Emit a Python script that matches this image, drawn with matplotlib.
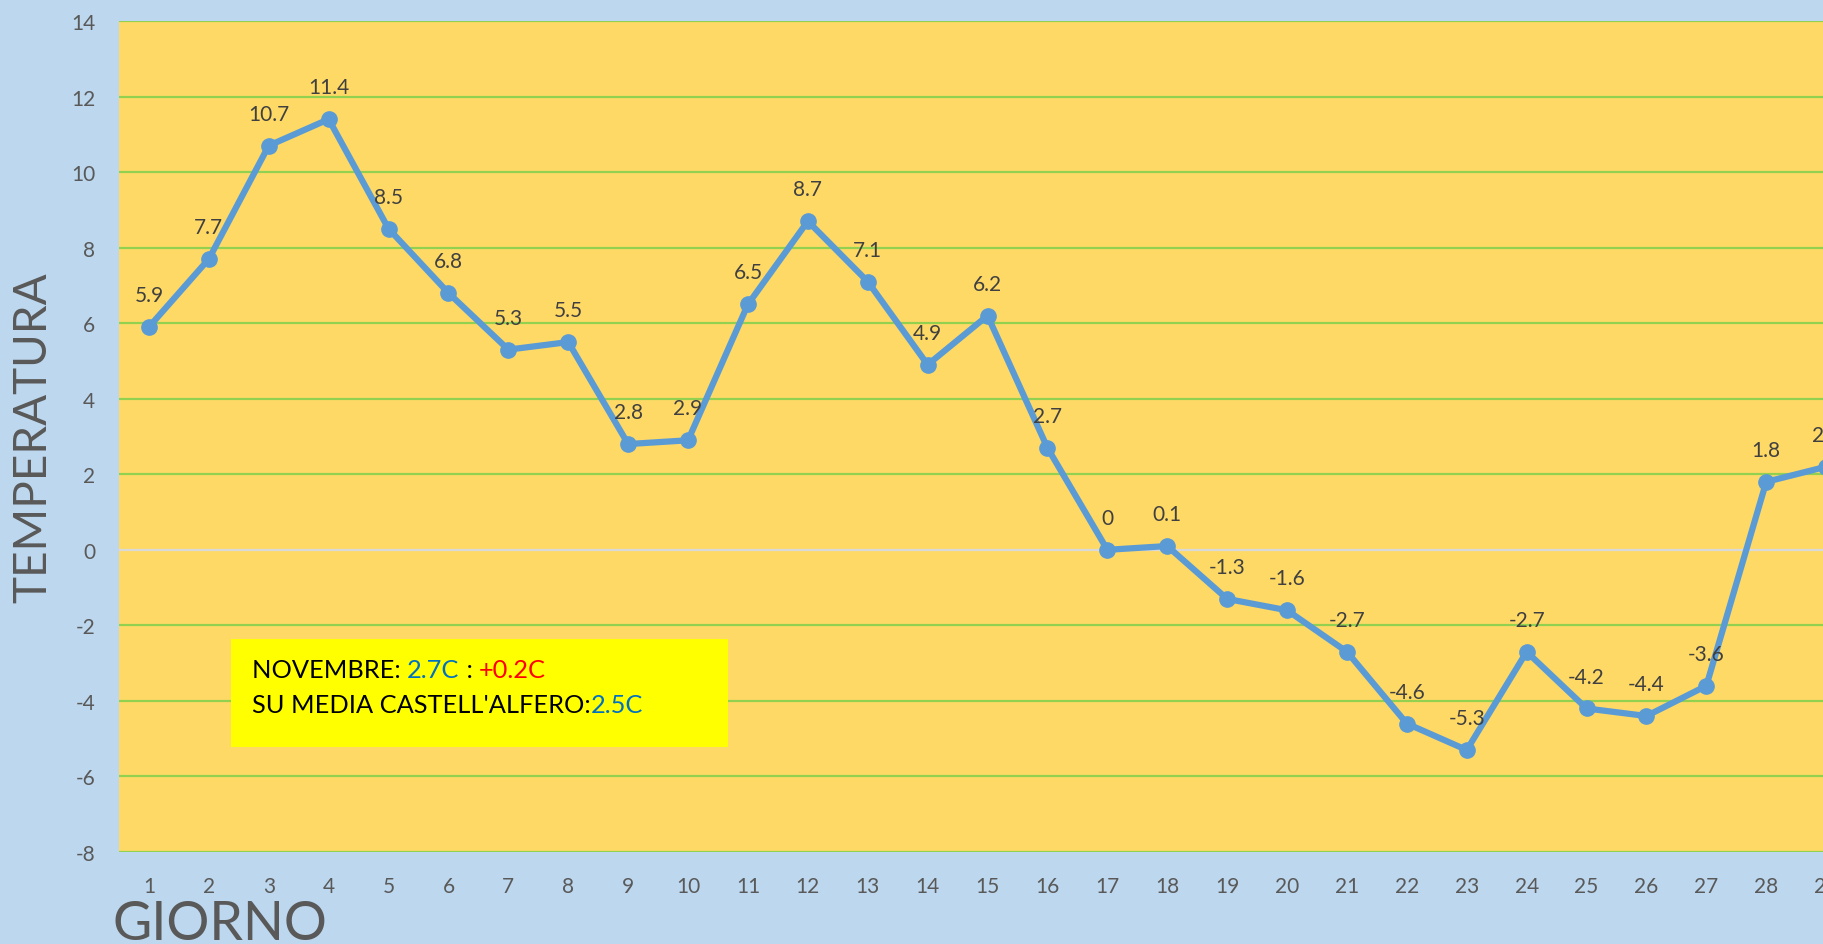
import matplotlib
matplotlib.use("Agg")
import matplotlib.pyplot as plt
from matplotlib.patches import Rectangle

days = list(range(1, 30))
temps = [5.9, 7.7, 10.7, 11.4, 8.5, 6.8, 5.3, 5.5, 2.8, 2.9, 6.5, 8.7, 7.1, 4.9, 6.2,
         2.7, 0, 0.1, -1.3, -1.6, -2.7, -4.6, -5.3, -2.7, -4.2, -4.4, -3.6, 1.8, 2.2]
yticks = [-8, -6, -4, -2, 0, 2, 4, 6, 8, 10, 12, 14]
xticklabels = [str(d) for d in range(1, 31)]

plt.rcParams['font.family'] = ['Lato', 'DejaVu Sans']
plt.rcParams['axes.unicode_minus'] = False

BG = '#BDD7EE'
PLOT = '#FFD966'
GRID = '#92D050'
LINE = '#5B9BD5'
TICK = '#595959'
LAB = '#404040'
BLUE = '#0070C0'

fig = plt.figure(figsize=(18.24, 9.45), dpi=100)
fig.patch.set_facecolor(BG)
ax = fig.add_axes([119/1824, 92/945, 1797/1824, 831/945])
ax.set_facecolor(PLOT)
ax.set_xlim(0.5, 30.5)
ax.set_ylim(-8, 14)
ax.set_yticks(yticks)
ax.set_yticklabels([str(y) for y in yticks])
ax.set_xticks(range(1, 31))
ax.set_xticklabels(xticklabels)
for s in ax.spines.values():
    s.set_visible(False)
ax.tick_params(axis='both', length=0, labelsize=15, colors=TICK)
ax.tick_params(axis='x', pad=17)
ax.tick_params(axis='y', pad=17)
for y in yticks:
    ax.axhline(y, color=('#D9D9D9' if y == 0 else GRID), lw=1.6, zorder=1)

ax.plot(days, temps, color=LINE, lw=4.5, marker='o', ms=11, zorder=3,
        solid_joinstyle='round')
for d, t in zip(days, temps):
    ax.annotate('%g' % t, (d, t), xytext=(0, 23), textcoords='offset points',
                ha='center', va='center', fontsize=15, color=LAB, zorder=4)

# Text box
fig.patches.append(Rectangle((231/1824, 1 - 748/945), (728-231)/1824, (748-640)/945,
                             transform=fig.transFigure, facecolor='#FFFF00',
                             edgecolor='none', zorder=5))

def rainbow(parts, x, y, size=18.3):
    fig.canvas.draw()
    r = fig.canvas.get_renderer()
    cx = x
    for txt, col in parts:
        tt = fig.text(cx / 1824, 1 - y / 945, txt, color=col, fontsize=size,
                      ha='left', va='baseline', zorder=6)
        bb = tt.get_window_extent(renderer=r)
        cx += bb.width

rainbow([('NOVEMBRE: ', 'black'), ('2.7C', BLUE), (' : ', 'black'), ('+0.2C', 'red')], 252, 678)
rainbow([("SU MEDIA CASTELL'ALFERO:", 'black'), ('2.5C', BLUE)], 252, 713)

fig.text(33/1824, 1 - 438/945, 'TEMPERATURA', rotation=90, fontsize=33, color=TICK,
         ha='center', va='center')
fig.text(113/1824, 1 - 940/945, 'GIORNO', fontsize=38.7, color=TICK, ha='left', va='baseline')

fig.savefig('out.png', dpi=100, facecolor=BG)
